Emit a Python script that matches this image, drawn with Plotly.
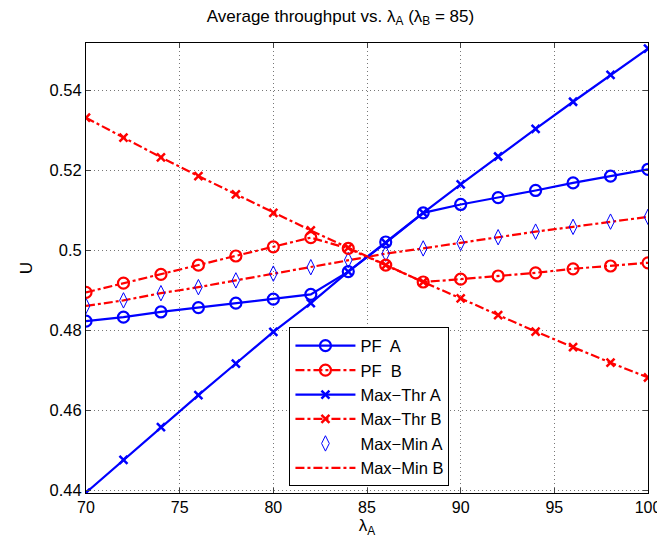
import plotly.graph_objects as go

lam_a = [70, 72, 74, 76, 78, 80, 82, 84, 86, 88, 90, 92, 94, 96, 98, 100]

pf_a = [0.4823, 0.4833, 0.4846, 0.4857, 0.4868, 0.4878, 0.4890, 0.4947,
        0.5021, 0.5094, 0.5115, 0.5132, 0.5150, 0.5169, 0.5186, 0.5203]
pf_b = [0.4895, 0.4918, 0.4940, 0.4963, 0.4986, 0.5009, 0.5032, 0.5005,
        0.4963, 0.4921, 0.4928, 0.4936, 0.4944, 0.4954, 0.4961, 0.4969]
maxthr_a = [0.4394, 0.4476, 0.4558, 0.4638, 0.4717, 0.4796, 0.4868, 0.4947,
            0.5019, 0.5094, 0.5165, 0.5235, 0.5304, 0.5372, 0.5439, 0.5505]
maxthr_b = [0.5332, 0.5282, 0.5233, 0.5186, 0.5140, 0.5094, 0.5050, 0.5007,
            0.4963, 0.4921, 0.4880, 0.4838, 0.4797, 0.4758, 0.4719, 0.4682]
maxmin_a = [0.4861, 0.4875, 0.4893, 0.4908, 0.4925, 0.4942, 0.4958, 0.4976,
            0.4992, 0.5005, 0.5019, 0.5033, 0.5047, 0.5059, 0.5072, 0.5084]
maxmin_b = [0.4861, 0.4875, 0.4893, 0.4908, 0.4925, 0.4942, 0.4958, 0.4976,
            0.4992, 0.5005, 0.5019, 0.5033, 0.5047, 0.5059, 0.5072, 0.5084]

x_ticks = [70, 75, 80, 85, 90, 95, 100]
y_ticks = [0.44, 0.46, 0.48, 0.50, 0.52, 0.54]
y_tick_text = ["0.44", "0.46", "0.48", "0.5", "0.52", "0.54"]

BLUE = "#0000ff"
RED = "#ff0000"
FONT = "Liberation Sans, Arial, sans-serif"

fig = go.Figure()

fig.add_trace(go.Scatter(x=lam_a, y=maxmin_b, name="Max\u2212Min B", mode="lines",
                         line=dict(color=RED, width=2.2, dash="dashdot"),
                         legendgroup="g6", legendrank=6))
fig.add_trace(go.Scatter(x=lam_a, y=maxmin_a, name="Max\u2212Min A", mode="markers",
                         marker=dict(symbol="diamond-tall-open", size=11, color=BLUE,
                                     line=dict(width=1, color=BLUE)),
                         legendgroup="g5", legendrank=5))
fig.add_trace(go.Scatter(x=lam_a, y=pf_a, name="PF  A", mode="lines+markers",
                         line=dict(color=BLUE, width=2.2),
                         marker=dict(symbol="circle-open", size=11, color=BLUE,
                                     line=dict(width=2.2, color=BLUE)),
                         legendgroup="g1", legendrank=1))
fig.add_trace(go.Scatter(x=lam_a, y=pf_b, name="PF  B", mode="lines+markers",
                         line=dict(color=RED, width=2.2, dash="dashdot"),
                         marker=dict(symbol="circle-open", size=11, color=RED,
                                     line=dict(width=2.2, color=RED)),
                         legendgroup="g2", legendrank=2))
fig.add_trace(go.Scatter(x=lam_a, y=maxthr_a, name="Max\u2212Thr A", mode="lines+markers",
                         line=dict(color=BLUE, width=2.2),
                         marker=dict(symbol="x-thin", size=8, color=BLUE,
                                     line=dict(width=2.5, color=BLUE)),
                         legendgroup="g3", legendrank=3))
fig.add_trace(go.Scatter(x=lam_a, y=maxthr_b, name="Max\u2212Thr B", mode="lines+markers",
                         line=dict(color=RED, width=2.2, dash="dashdot"),
                         marker=dict(symbol="x-thin", size=8, color=RED,
                                     line=dict(width=2.5, color=RED)),
                         legendgroup="g4", legendrank=4))

fig.update_layout(
    width=665, height=544,
    margin=dict(l=78, r=15, t=35, b=59),
    paper_bgcolor="white", plot_bgcolor="white",
    font=dict(family=FONT, size=16, color="black"),
    title=dict(text="Average throughput vs. \u03bb<sub>A</sub> (\u03bb<sub>B</sub> = 85)",
               x=0.5, xanchor="center", y=0.997, yanchor="top",
               font=dict(size=17)),
    showlegend=True,
    legend=dict(x=0.362, y=0.368, xanchor="left", yanchor="top",
                bordercolor="black", borderwidth=1, bgcolor="white",
                font=dict(size=16.5), itemwidth=60, tracegroupgap=0,
                traceorder="grouped"),
)
fig.update_xaxes(range=[70, 100], tickvals=x_ticks, ticks="inside", ticklen=5,
                 showline=True, linecolor="black", linewidth=1, mirror="ticks",
                 showgrid=True, gridcolor="#777777", griddash="1px,3px", gridwidth=1,
                 zeroline=False, tickfont=dict(size=16),
                 title=dict(text="\u03bb<sub>A</sub>", standoff=2, font=dict(size=17)))
fig.update_yaxes(range=[0.4393, 0.5519], tickvals=y_ticks, ticktext=y_tick_text,
                 ticks="inside", ticklen=5,
                 showline=True, linecolor="black", linewidth=1, mirror="ticks",
                 showgrid=True, gridcolor="#777777", griddash="1px,3px", gridwidth=1,
                 zeroline=False, tickfont=dict(size=16.5),
                 title=dict(text="U", standoff=12, font=dict(size=17)))

fig.write_html("out.html")
